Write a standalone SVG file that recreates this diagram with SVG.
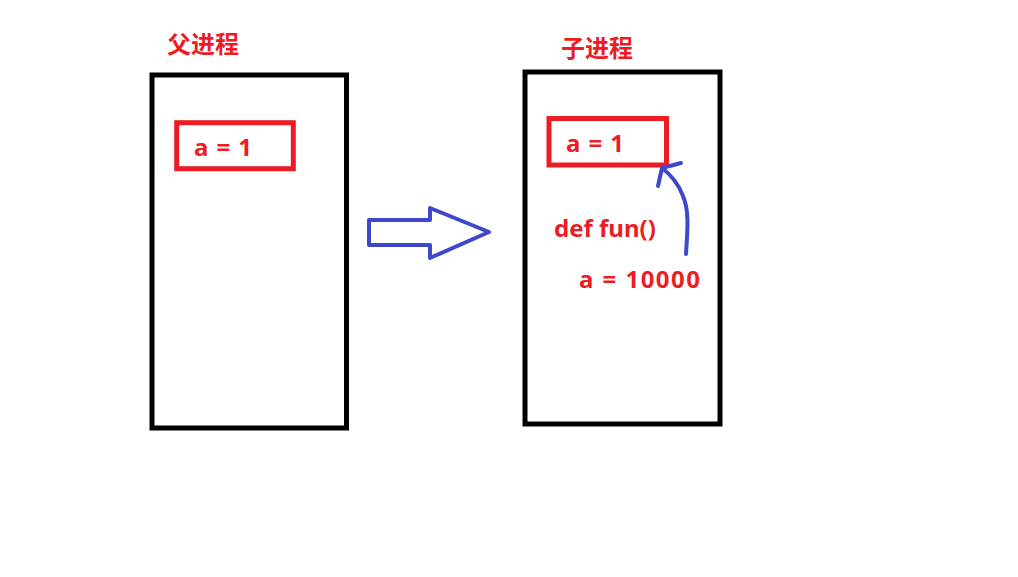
<svg xmlns="http://www.w3.org/2000/svg" width="1018" height="577" viewBox="0 0 1018 577">
<style>
.proc{fill:none;stroke:#000;stroke-width:5}
.var{fill:none;stroke:#ed1c24;stroke-width:5}
.t{fill:#ed1c24;font-family:"Noto Sans","Noto Sans CJK SC",sans-serif;font-weight:bold;font-size:24px}
.cjk{fill:#ed1c24;font-family:"Noto Sans CJK SC",sans-serif;font-weight:bold;font-size:24px}
.blue{fill:none;stroke:#3f48cc;stroke-width:4;stroke-linejoin:round;stroke-linecap:round}
</style>
<rect width="1018" height="577" fill="#fff"/>
<g id="parent">
<text class="cjk" x="167" y="53">父进程</text>
<rect class="proc" x="152" y="75" width="194.5" height="353"/>
<g id="parent-a">
<rect class="var" x="176.7" y="122.7" width="116.6" height="46"/>
<text class="t" x="194" y="156" textLength="58" lengthAdjust="spacing">a = 1</text>
</g>
</g>
<g id="child">
<text class="cjk" x="561" y="57">子进程</text>
<rect class="proc" x="525" y="72" width="195" height="352"/>
<g id="child-a">
<rect class="var" x="549" y="118.5" width="117.5" height="46.5"/>
<text class="t" x="566" y="152" textLength="58" lengthAdjust="spacing">a = 1</text>
</g>
<text class="t" x="554" y="237">def fun()</text>
<text class="t" x="579" y="288" textLength="121" lengthAdjust="spacing">a = 10000</text>
</g>
<g id="connectors">
<polygon class="blue" points="369,220 430,220 430,208 489,232 430,258 430,245 369,245"/>
<path class="blue" d="M686,254 C687,235 690,212 683,196 C678,183 670,174 662,168"/>
<path class="blue" d="M681,163 L662,168 L658,186" stroke-width="3"/>
</g>
</svg>
